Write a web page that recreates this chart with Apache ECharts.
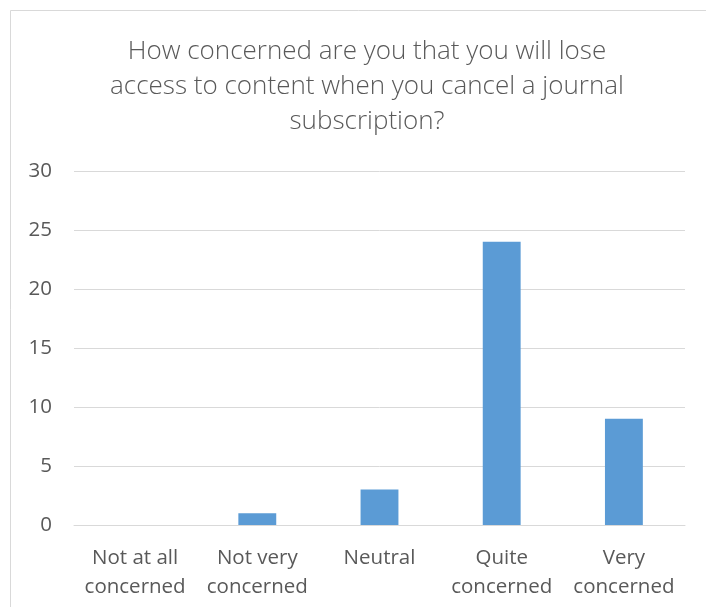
<!DOCTYPE html>
<html>
<head>
<meta charset="utf-8">
<script src="https://cdn.jsdelivr.net/npm/echarts@6/dist/echarts.min.js"></script>
<style>
  html, body { margin: 0; padding: 0; background: #fff; }
  #chart { width: 706px; height: 607px; }
</style>
</head>
<body>
<div id="chart"></div>
<script>
// Survey responses: concern about losing access after cancelling a subscription
const categories = ['Not at all\nconcerned', 'Not very\nconcerned', 'Neutral', 'Quite\nconcerned', 'Very\nconcerned'];
const responses = [0, 1, 3, 24, 9];
const yTicks = { min: 0, max: 30, step: 5 };

const textColor = '#595959';
const fontFamily = '"Open Sans", "Liberation Sans", sans-serif';

const chart = echarts.init(document.getElementById('chart'), null, { renderer: 'canvas' });
chart.setOption({
  animation: false,
  backgroundColor: '#ffffff',
  graphic: [{
    type: 'rect',
    shape: { x: 10.5, y: 10.5, width: 720, height: 640 },
    style: { fill: 'none', stroke: '#d9d9d9', lineWidth: 1 },
    silent: true
  }],
  title: {
    text: 'How concerned are you that you will lose\naccess to content when you cancel a journal\nsubscription?',
    left: 362,
    top: 29,
    textAlign: 'center',
    textStyle: {
      color: textColor,
      fontFamily: fontFamily,
      fontWeight: 300,
      fontSize: 26,
      lineHeight: 35
    }
  },
  grid: { left: 74, right: 21, top: 171, bottom: 82, containLabel: false },
  xAxis: {
    type: 'category',
    data: categories,
    axisLine: { show: true, lineStyle: { color: '#d9d9d9', width: 1 } },
    axisTick: { show: false },
    axisLabel: {
      color: textColor,
      fontFamily: fontFamily,
      fontWeight: 400,
      fontSize: 20.5,
      lineHeight: 29,
      margin: 19,
      interval: 0
    }
  },
  yAxis: {
    type: 'value',
    min: yTicks.min,
    max: yTicks.max,
    interval: yTicks.step,
    axisLine: { show: false },
    axisTick: { show: false },
    splitLine: { lineStyle: { color: '#d9d9d9', width: 1 } },
    axisLabel: {
      color: textColor,
      fontFamily: fontFamily,
      fontWeight: 400,
      fontSize: 20.5,
      margin: 22
    }
  },
  series: [{
    type: 'bar',
    data: responses,
    barWidth: '31%',
    itemStyle: { color: '#5b9bd5' }
  }]
});
</script>
</body>
</html>
